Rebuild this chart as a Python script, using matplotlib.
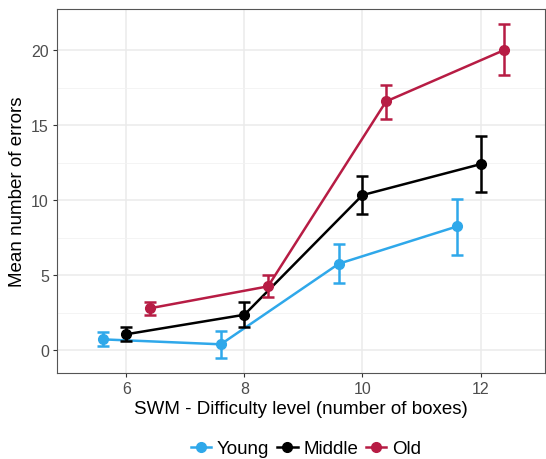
import numpy as np
import matplotlib.pyplot as plt
from matplotlib.lines import Line2D

plt.rcParams['font.family'] = ['Liberation Sans', 'DejaVu Sans']

levels = [6, 8, 10, 12]
groups = ["Young", "Middle", "Old"]
colors = {"Young": "#2FA8EA", "Middle": "#000000", "Old": "#B71C44"}
dodge = {"Young": -0.4, "Middle": 0.0, "Old": 0.4}

young_mean = [0.73, 0.40, 5.77, 8.25]
young_lo = [0.27, -0.49, 4.48, 6.32]
young_hi = [1.20, 1.27, 7.06, 10.07]

middle_mean = [1.07, 2.37, 10.34, 12.40]
middle_lo = [0.62, 1.53, 9.10, 10.56]
middle_hi = [1.53, 3.24, 11.58, 14.25]

old_mean = [2.80, 4.26, 16.58, 20.00]
old_lo = [2.35, 3.53, 15.44, 18.33]
old_hi = [3.22, 5.00, 17.68, 21.72]

data = {
    "Young": (young_mean, young_lo, young_hi),
    "Middle": (middle_mean, middle_lo, middle_hi),
    "Old": (old_mean, old_lo, old_hi),
}

fig = plt.figure(figsize=(5.46, 4.60), dpi=100)
ax = fig.add_axes([0.1035, 0.187, 0.8955, 0.792])

for g in groups:
    m, lo, hi = (np.array(v) for v in data[g])
    x = np.array(levels) + dodge[g]
    c = colors[g]
    ax.plot(x, m, color=c, lw=1.8, zorder=3)
    ax.errorbar(x, m, yerr=[m - lo, hi - m], fmt="none", ecolor=c,
                elinewidth=1.8, capsize=4.3, capthick=1.8, zorder=3)
    ax.plot(x, m, "o", color=c, ms=7, zorder=4)

ax.set_xlim(4.817, 13.1)
ax.set_ylim(-1.51, 22.76)
ax.set_xticks(levels)
ax.set_yticks([0, 5, 10, 15, 20])
ax.set_yticks([2.5, 7.5, 12.5, 17.5], minor=True)
ax.grid(True, which="major", color="#EBEBEB", lw=1.1, zorder=0)
ax.grid(True, which="minor", axis="y", color="#F2F2F2", lw=0.6, zorder=0)
ax.set_axisbelow(True)
ax.tick_params(which="major", length=3, width=0.8, color="#333333",
               labelsize=11.5, labelcolor="#4D4D4D", pad=2.5)
ax.tick_params(which="minor", length=0)
for s in ax.spines.values():
    s.set_color("#555555")
    s.set_linewidth(0.8)

ax.set_xlabel("SWM - Difficulty level (number of boxes)", fontsize=13.5, labelpad=3)
ax.set_ylabel("Mean number of errors", fontsize=13.5, labelpad=4)

handles = [Line2D([], [], color=colors[g], lw=1.8, marker="o", ms=7) for g in groups]
fig.legend(handles, groups, loc="center", bbox_to_anchor=(0.56, 0.022),
           ncol=3, frameon=False, fontsize=13.5, handlelength=1.1,
           handletextpad=0.3, columnspacing=0.4)

fig.savefig("out.png", dpi=100)
